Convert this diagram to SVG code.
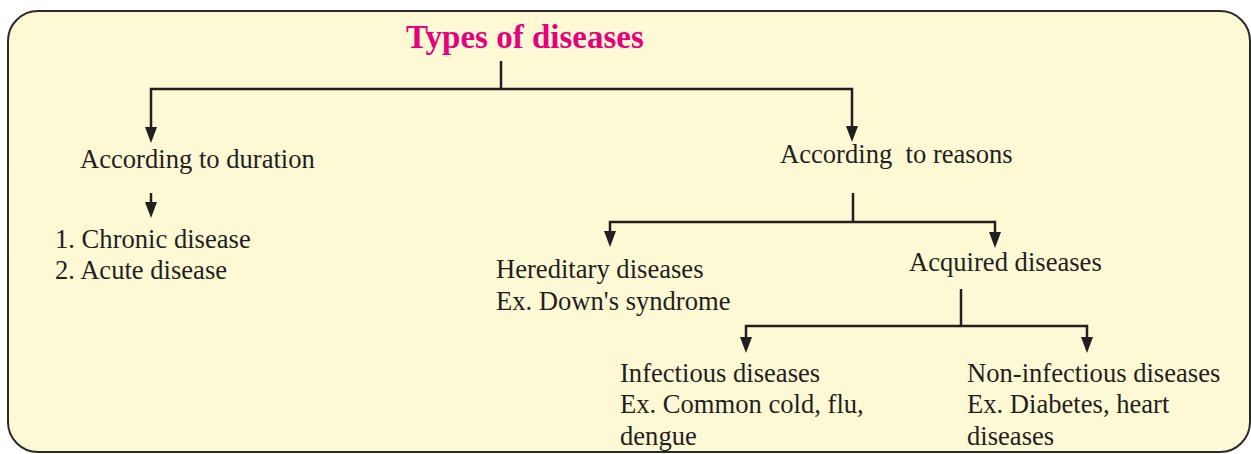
<svg xmlns="http://www.w3.org/2000/svg" width="1251" height="454" viewBox="0 0 1251 454">
<style>
.t{font-family:"Liberation Serif","Times New Roman",serif;font-size:26.6px;fill:#231f20}
.title{font-family:"Liberation Serif","Times New Roman",serif;font-size:33px;font-weight:bold;fill:#e6007e}
.c{fill:none;stroke:#231f20;stroke-width:2.5;stroke-linejoin:miter}
.a{marker-end:url(#arr)}
</style>
<defs>
<marker id="arr" markerUnits="userSpaceOnUse" markerWidth="17" markerHeight="13" viewBox="0 0 17 13" refX="6" refY="6.5" orient="auto">
<path d="M0,0.5 L16,6.5 L0,12.5 Z" fill="#231f20"/>
</marker>
</defs>
<rect id="frame" x="8" y="11" width="1242" height="441" rx="30" ry="30" fill="#fef9d5" stroke="#2a2a2a" stroke-width="2"/>
<g id="connectors">
<path class="c" d="M501,61 V89"/>
<path class="c a" d="M501,89 H151 V133"/>
<path class="c a" d="M501,89 H852 V132"/>
<path class="c a" d="M151,193 V208"/>
<path class="c" d="M853,193 V222"/>
<path class="c a" d="M853,222 H610 V237"/>
<path class="c a" d="M853,222 H995 V238"/>
<path class="c" d="M961,289 V326"/>
<path class="c a" d="M961,326 H746 V343"/>
<path class="c a" d="M961,326 H1087 V343"/>
</g>
<g id="n-title"><text class="title" x="406" y="48">Types of diseases</text></g>
<g id="n-duration"><text class="t" x="80" y="168">According to duration</text></g>
<g id="n-duration-list"><text class="t" x="55" y="248">1. Chronic disease</text><text class="t" x="55" y="279">2. Acute disease</text></g>
<g id="n-reasons"><text class="t" x="780" y="163" xml:space="preserve">According  to reasons</text></g>
<g id="n-hereditary"><text class="t" x="496" y="278">Hereditary diseases</text><text class="t" x="496" y="310">Ex. Down's syndrome</text></g>
<g id="n-acquired"><text class="t" x="909" y="271">Acquired diseases</text></g>
<g id="n-infectious"><text class="t" x="620" y="382">Infectious diseases</text><text class="t" x="620" y="413">Ex. Common cold, flu,</text><text class="t" x="620" y="445">dengue</text></g>
<g id="n-noninfectious"><text class="t" x="967" y="382">Non-infectious diseases</text><text class="t" x="967" y="413">Ex. Diabetes, heart</text><text class="t" x="967" y="445">diseases</text></g>
</svg>
